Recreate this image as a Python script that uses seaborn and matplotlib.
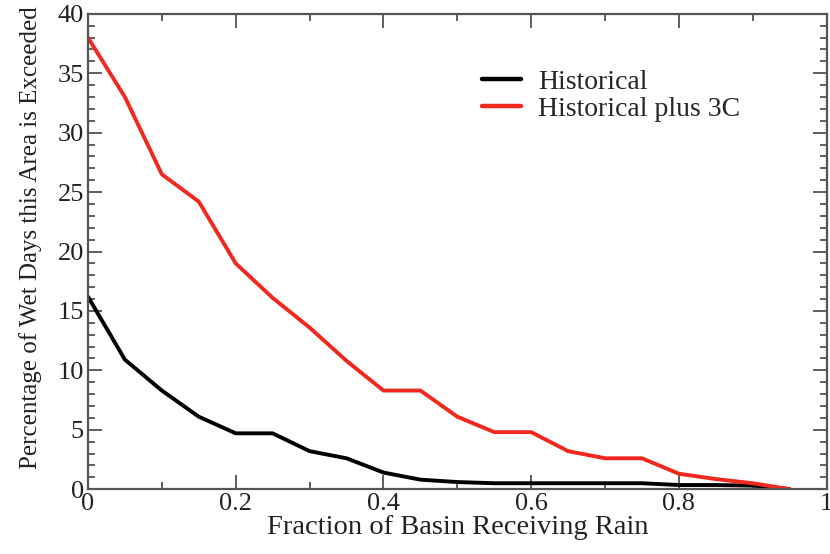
import numpy as np
import pandas as pd
import matplotlib
matplotlib.use("Agg")
import matplotlib.pyplot as plt
from matplotlib.ticker import MultipleLocator
import seaborn as sns

# Fraction of basin receiving rain (x) and exceedance percentage (y)
fraction = [0.0, 0.05, 0.10, 0.15, 0.20, 0.25, 0.30, 0.35, 0.40, 0.45,
            0.50, 0.55, 0.60, 0.65, 0.70, 0.75, 0.80, 0.85, 0.90, 0.95]
historical = [16.2, 10.9, 8.3, 6.1, 4.7, 4.7, 3.2, 2.6, 1.4, 0.8,
              0.6, 0.5, 0.5, 0.5, 0.5, 0.5, 0.35, 0.35, 0.3, 0.0]
plus_3c = [38.0, 33.0, 26.5, 24.2, 19.0, 16.1, 13.6, 10.8, 8.3, 8.3,
           6.1, 4.8, 4.8, 3.2, 2.6, 2.6, 1.3, 0.85, 0.5, 0.0]
series_names = ["Historical", "Historical plus 3C"]
series_colors = ["#000000", "#f0281e"]
xtick_labels = ["0", "0.2", "0.4", "0.6", "0.8", "1"]

df = pd.concat([
    pd.DataFrame({"fraction": fraction, "pct": historical, "series": series_names[0]}),
    pd.DataFrame({"fraction": fraction, "pct": plus_3c, "series": series_names[1]}),
])

sns.set_theme(style="ticks")
plt.rcParams["font.family"] = ["Liberation Serif", "DejaVu Serif"]
plt.rcParams["xtick.direction"] = "in"
plt.rcParams["ytick.direction"] = "in"

fig = plt.figure(figsize=(8.3, 5.54), dpi=100)
ax = fig.add_axes([0.106, 0.117, 0.890, 0.858])

sns.lineplot(data=df, x="fraction", y="pct", hue="series",
             palette=dict(zip(series_names, series_colors)),
             linewidth=2.8, ax=ax, legend=False, sort=False)

ax.set_xlim(0, 1)
ax.set_ylim(0, 40)
ax.xaxis.set_major_locator(MultipleLocator(0.2))
ax.xaxis.set_minor_locator(MultipleLocator(0.1))
ax.yaxis.set_major_locator(MultipleLocator(5))
ax.yaxis.set_minor_locator(MultipleLocator(1))
ax.set_xticks([0, 0.2, 0.4, 0.6, 0.8, 1.0])
ax.set_xticklabels(xtick_labels)

ax.tick_params(which="both", top=True, right=True, color="#444444",
               labelsize=19, labelcolor="#222222", width=1.2)
ax.tick_params(which="major", length=10, pad=3)
ax.tick_params(which="minor", length=5)
for s in ax.spines.values():
    s.set_color("#555555")
    s.set_linewidth(1.6)

ax.set_xlabel("Fraction of Basin Receiving Rain", fontsize=20.5, color="#222222", labelpad=0)
ax.set_ylabel("Percentage of Wet Days this Area is Exceeded", fontsize=18,
              color="#222222", labelpad=11)
ax.yaxis.label.set_y(0.53)

handles = [plt.Line2D([], [], color=c, lw=3.2) for c in series_colors]
ax.legend(handles, series_names, loc="upper left", bbox_to_anchor=(0.5, 0.935),
          frameon=False, fontsize=20, handlelength=1.4, handletextpad=0.6,
          labelspacing=0.05)

fig.savefig("out.png", dpi=100)
